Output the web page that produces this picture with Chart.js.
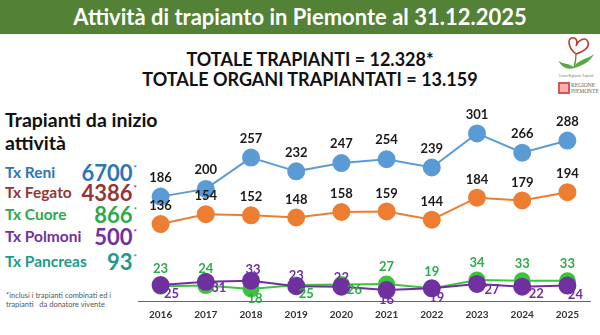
<!DOCTYPE html>
<html>
<head>
<meta charset="utf-8">
<script src="https://cdn.jsdelivr.net/npm/chart.js@4.4.1/dist/chart.umd.min.js"></script>
<style>
  body { margin: 0; background: #fff; font-family: Lato, "Open Sans", sans-serif; }
  #wrap { position: relative; width: 600px; height: 335px; overflow: hidden; }
  #banner { position: absolute; left: 0; top: 0; width: 600px; height: 34px; background: #538135;
            color: #fff; font-weight: bold; font-size: 22px; line-height: 34px; text-align: center; }
  .tot { position: absolute; left: 100px; width: 420px; text-align: center; font-weight: bold; font-size: 18px; color: #111; }
  .lt { position: absolute; left: 5px; font-weight: bold; }
  .num { position: absolute; right: 463px; font-weight: bold; font-size: 22px; }
  .num sup { font-size: 8px; vertical-align: 10px; margin-left: 1px; }
  #note { position: absolute; left: 6px; top: 291px; font-size: 7.5px; line-height: 9px; color: #555; }
  canvas { position: absolute; left: 0; top: 0; }
</style>
</head>
<body>
<div id="wrap">
  <div id="banner">Attività di trapianto in Piemonte al 31.12.2025</div>
  <div class="tot" style="top:48px">TOTALE TRAPIANTI = 12.328*</div>
  <div class="tot" style="top:68px">TOTALE ORGANI TRAPIANTATI = 13.159</div>

  <div class="lt" style="top:108px;font-size:19.5px;color:#111">Trapianti da inizio</div>
  <div class="lt" style="top:131px;font-size:19.5px;color:#111">attività</div>

  <div id="totals"></div>
  <div id="note">*inclusi i trapianti combinati ed i<br>trapianti &nbsp; da donatore vivente</div>

  <svg style="position:absolute;left:552px;top:32px" width="48" height="72" viewBox="0 0 48 72">
    <path d="M24 22 C14 14 16 4 22 6 C26 7 25 12 24 14 C26 8 34 4 36 10 C38 16 30 20 24 22" fill="none" stroke="#c0392b" stroke-width="1.6"/>
    <path d="M24 22 C24 28 23 32 22 36" stroke="#4a9a3a" stroke-width="1.4" fill="none"/>
    <path d="M22 34 C30 26 38 26 42 22 C38 30 30 34 22 36 Z" fill="#5aa845"/>
    <path d="M22 35 C14 30 8 32 6 28 C10 36 16 38 22 36 Z" fill="#5aa845"/>
    <text x="24" y="45" font-size="3" text-anchor="middle" fill="#777">Centro Regionale Trapianti</text>
    <rect x="6" y="50" width="12" height="12" fill="#d9534f"/>
    <rect x="8" y="52" width="8" height="8" fill="#f2b0b0"/>
    <text x="19" y="55" font-size="5.5" fill="#666" font-family="Liberation Serif">REGIONE</text>
    <text x="19" y="61" font-size="5.5" fill="#666" font-family="Liberation Serif">PIEMONTE</text>
  </svg>

  <canvas id="myChart" width="600" height="335"></canvas>
</div>
<script>
let years = ["2016", "2017", "2018", "2019", "2020", "2021", "2022", "2023", "2024", "2025"];
let reni = [186, 200, 257, 232, 247, 254, 239, 301, 266, 288];
let fegato = [136, 154, 152, 148, 158, 159, 144, 184, 179, 194];
let cuore = [23, 24, 18, 25, 26, 27, 19, 34, 33, 33];
let polmoni = [25, 31, 33, 23, 22, 16, 19, 27, 22, 24];

let organNames = ["Tx Reni", "Tx Fegato", "Tx Cuore", "Tx Polmoni", "Tx Pancreas"];
let organTotals = [6700, 4386, 866, 500, 93];

// left side list
let listColors = ["#2e75b6", "#943634", "#2ea84a", "#7030a0", "#1d9a8a"];
let listTops = [162, 182, 204, 226, 251];
let box = document.getElementById("totals");
for (let i = 0; i < organNames.length; i++)
{
    let n = document.createElement("div");
    n.className = "lt";
    n.style.top = (listTops[i] + 1) + "px";
    n.style.fontSize = "15.5px";
    n.style.color = listColors[i];
    n.innerText = organNames[i];
    box.appendChild(n);

    let v = document.createElement("div");
    v.className = "num";
    v.style.top = (listTops[i] - 3) + "px";
    v.style.color = listColors[i];
    v.innerHTML = organTotals[i] + "<sup>*</sup>";
    box.appendChild(v);
}

// label offsets per point (dx, dy) for each dataset
let labelPos = {
    reni: years.map(() => [0, -19]),
    fegato: years.map(() => [0, -18]),
    cuore: [[0, -17], [0, -17], [4, 10], [10, 9], [13, 5], [0, -17], [0, -17], [0, -17], [0, -17], [0, -17]],
    polmoni: [[11, 9], [13, 6], [2, -11], [0, -10], [0, -9], [0, 10], [5, 9], [15, 6], [14, 7], [8, 9]]
};

const pointLabels = {
    id: "pointLabels",
    afterDatasetsDraw(chart)
    {
        let ctx = chart.ctx;
        ctx.save();
        ctx.textAlign = "center";
        ctx.textBaseline = "middle";
        chart.data.datasets.forEach((ds, di) => {
            let meta = chart.getDatasetMeta(di);
            meta.data.forEach((pt, i) => {
                let off = labelPos[ds.key][i];
                ctx.font = "bold 13px Lato, 'Open Sans', sans-serif";
                ctx.fillStyle = ds.labelColor;
                ctx.fillText(ds.data[i], pt.x + off[0], pt.y + off[1]);
            });
        });
        ctx.restore();
    }
};

new Chart(document.getElementById("myChart"),
    {
        type: "line",
        data:
        {
            labels: years,
            datasets: [
                { key: "reni", data: reni, borderColor: "#5b9bd5", backgroundColor: "#5b9bd5", labelColor: "#1a1a1a",
                  borderWidth: 2, pointRadius: 8, pointHoverRadius: 8, order: 1 },
                { key: "fegato", data: fegato, borderColor: "#ed7d31", backgroundColor: "#ed7d31", labelColor: "#1a1a1a",
                  borderWidth: 2, pointRadius: 8, pointHoverRadius: 8, order: 2 },
                { key: "polmoni", data: polmoni, borderColor: "#7030a0", backgroundColor: "#7030a0", labelColor: "#7030a0",
                  borderWidth: 2, pointRadius: 8, pointHoverRadius: 8, order: 3 },
                { key: "cuore", data: cuore, borderColor: "#3cc43c", backgroundColor: "#3cc43c", labelColor: "#2eaa4a",
                  borderWidth: 2, pointRadius: 7.5, pointHoverRadius: 7.5, order: 4 }
            ]
        },
        options:
        {
            responsive: false,
            animation: false,
            layout: { padding: { left: 138, right: 2, top: 123, bottom: 6 } },
            plugins: { legend: { display: false }, tooltip: { enabled: false } },
            scales: {
                x: {
                    offset: true,
                    grid: { display: false, drawTicks: false },
                    border: { display: true, color: "#666", width: 1 },
                    ticks: { padding: 8, color: "#333", font: { family: "Lato", weight: "bold", size: 10 } }
                },
                y: {
                    display: false,
                    min: -4,
                    max: 320
                }
            }
        },
        plugins: [pointLabels]
    }
);
</script>
</body>
</html>
